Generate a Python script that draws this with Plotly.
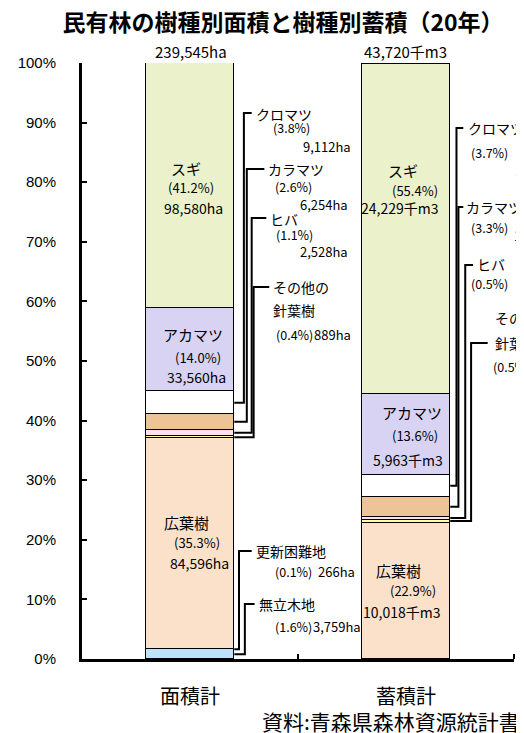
import plotly.graph_objects as go

# data (H20, private forests)
species = ["無立木地", "更新困難地", "広葉樹", "その他の針葉樹", "ヒバ", "カラマツ", "クロマツ", "アカマツ", "スギ"]
area_pct = [1.6, 0.1, 35.3, 0.4, 1.1, 2.6, 3.8, 14.0, 41.2]
area_val = [3759, 266, 84596, 889, 2528, 6254, 9112, 33560, 98580]
vol_pct = [None, None, 22.9, 0.5, 0.5, 3.3, 3.7, 13.6, 55.4]
vol_val = [None, None, 10018, 216, 219, 1443, 1618, 5963, 24229]
categories = ["面積計", "蓄積計"]
totals = ["239,545ha", "43,720千m3"]
units = ["ha", "千m3"]

colors = ["#BEE2FA", "#808080", "#FBE1C9", "#FFFF99", "#FCE1EF",
          "#EDC495", "#FFFFFF", "#D9D3F3", "#EBF1CA"]

JP = "Noto Sans CJK JP"
# page body has an 8px margin, so the figure starts at (8, 8) of the window
OFF = 8
W, H = 524 - OFF, 733 - OFF
L, R, T, B = 71, 514, 63, 659   # plot area in window pixels
BAR_W = 0.41


def px(x):
    return (x - L) / (R - L)


def py(y):
    return (B - y) / (B - T)


def dx(x):
    return -0.5 + 2 * (x - L) / (R - L)


fig = go.Figure()
for i, name in enumerate(species):
    ys = [area_pct[i] / 100, None if vol_pct[i] is None else vol_pct[i] / 100]
    fig.add_trace(go.Bar(x=[0, 1], y=ys, width=BAR_W, name=name, showlegend=False,
                         marker=dict(color=colors[i], line=dict(color="black", width=1.5))))

# segment middles (fraction) for the leader lines
def mids(pcts):
    out, cum = [], 0.0
    for p in pcts:
        p = p or 0
        out.append((cum + p / 2) / 100)
        cum += p
    return out

mids_all = [mids(area_pct), mids(vol_pct)]

annos = []


def label(x, y, text, anchor="left", size=13):
    annos.append(dict(x=px(x), y=py(y), xref="paper", yref="paper", text=text,
                      showarrow=False, xanchor=anchor, yanchor="middle",
                      font=dict(family=JP, size=size, color="black")))


def pct_txt(p):
    return f"({p:.1f}%)"


def val_txt(v, u):
    return f"{v:,}{u}"


# labels inside the big segments: (bar, idx, [(x,y) name, pct, value])
inside = [
    (0, 8, [(178, 168), (183, 187), (185, 208)]),
    (0, 7, [(185, 334), (190, 357), (188, 377)]),
    (0, 2, [(178, 522), (189, 542), (191, 563)]),
    (1, 8, [(400, 170), (412, 190), (397, 208)]),
    (1, 7, [(409, 412), (412, 435), (405, 460)]),
    (1, 2, [(396, 570), (410, 590), (399, 612)]),
]
for bar, i, pos in inside:
    p = area_pct[i] if bar == 0 else vol_pct[i]
    v = area_val[i] if bar == 0 else vol_val[i]
    label(pos[0][0], pos[0][1], species[i], "center", 15)
    label(pos[1][0], pos[1][1], pct_txt(p), "center")
    label(pos[2][0], pos[2][1], val_txt(v, units[bar]), "center", 14)

# outside labels with elbow leaders:
# (bar, idx, vertical x, elbow y, end x, name rows, pct pos, value pos, value anchor)
outside = [
    (0, 6, 237, 113, 245, [(247, 114)], (265, 128), (349, 146), "right"),
    (0, 5, 240, 169, 258, [(260, 169)], (267, 186), (346, 204), "right"),
    (0, 4, 245, 218, 260, [(262, 219)], (268, 234), (346, 251), "right"),
    (0, 3, 247, 287, 263, [(265, 287), (265, 310)], (268, 334), (349, 334), "right"),
    (0, 1, 232, 551, 245, [(247, 551)], (267, 571), (353, 571), "right"),
    (0, 0, 238, 604, 248, [(250, 604)], (267, 626), (359, 626), "right"),
    (1, 6, 455, 128, 462, [(465, 128)], (468, 152), (513, 170), "left"),
    (1, 5, 457, 207, 462, [(463, 207)], (468, 227), (512, 235), "left"),
    (1, 4, 464, 265, 472, [(474, 264)], (468, 283), (517, 293), "left"),
    (1, 3, 470, 343, 487, [(492, 318), (492, 343)], (490, 367), (517, 390), "left"),
]
for bar, i, vx, ly, ex, names, ppos, vpos, vanc in outside:
    edge = bar + BAR_W / 2
    m = mids_all[bar][i]
    fig.add_trace(go.Scatter(x=[edge, dx(vx), dx(vx), dx(ex)], y=[m, m, py(ly), py(ly)],
                             mode="lines", line=dict(color="black", width=2),
                             showlegend=False, hoverinfo="skip", cliponaxis=False))
    rows = ["その他の", "針葉樹"] if len(names) == 2 else [species[i]]
    for (nx, ny), t in zip(names, rows):
        label(nx, ny, t, size=14)
    p = area_pct[i] if bar == 0 else vol_pct[i]
    v = area_val[i] if bar == 0 else vol_val[i]
    label(ppos[0], ppos[1], pct_txt(p), size=12.5)
    label(vpos[0], vpos[1], val_txt(v, units[bar]), vanc, 13)

# totals above the bars
label(183, 52, totals[0], "center", 15)
label(403, 52, totals[1], "center", 15)
# source
label(522, 721, "資料:青森県森林資源統計書", "right", 21)

fig.update_layout(
    width=W, height=H, barmode="stack", bargap=0,
    plot_bgcolor="white", paper_bgcolor="white",
    margin=dict(l=L - OFF, r=524 - R, t=T - OFF, b=733 - B),
    title=dict(text="<b>民有林の樹種別面積と樹種別蓄積（20年）</b>", x=(283 - OFF) / W,
               xanchor="center", y=1 - (23 - OFF) / H, yanchor="middle",
               font=dict(family=JP, size=23, color="black")),
    annotations=annos,
)
fig.update_xaxes(range=[-0.5, 1.5], tickmode="array", tickvals=[0, 1], ticktext=categories,
                 ticks="", showline=True, linecolor="black", linewidth=3, showgrid=False,
                 zeroline=False, tickfont=dict(family=JP, size=20, color="black"),
                 ticklabelstandoff=18,
                 minor=dict(tickmode="array", tickvals=[0.5, 1.5], ticks="inside",
                            ticklen=5, tickwidth=2, tickcolor="black", showgrid=False))
fig.update_yaxes(range=[0, 1], dtick=0.1, tickformat=".0%", ticks="inside", ticklen=5,
                 tickwidth=1.5, tickcolor="black", showline=True, linecolor="black",
                 linewidth=3, showgrid=False, zeroline=False, ticklabelstandoff=20,
                 tickfont=dict(family="Liberation Sans", size=15, color="black"))

fig.write_html("out.html")
